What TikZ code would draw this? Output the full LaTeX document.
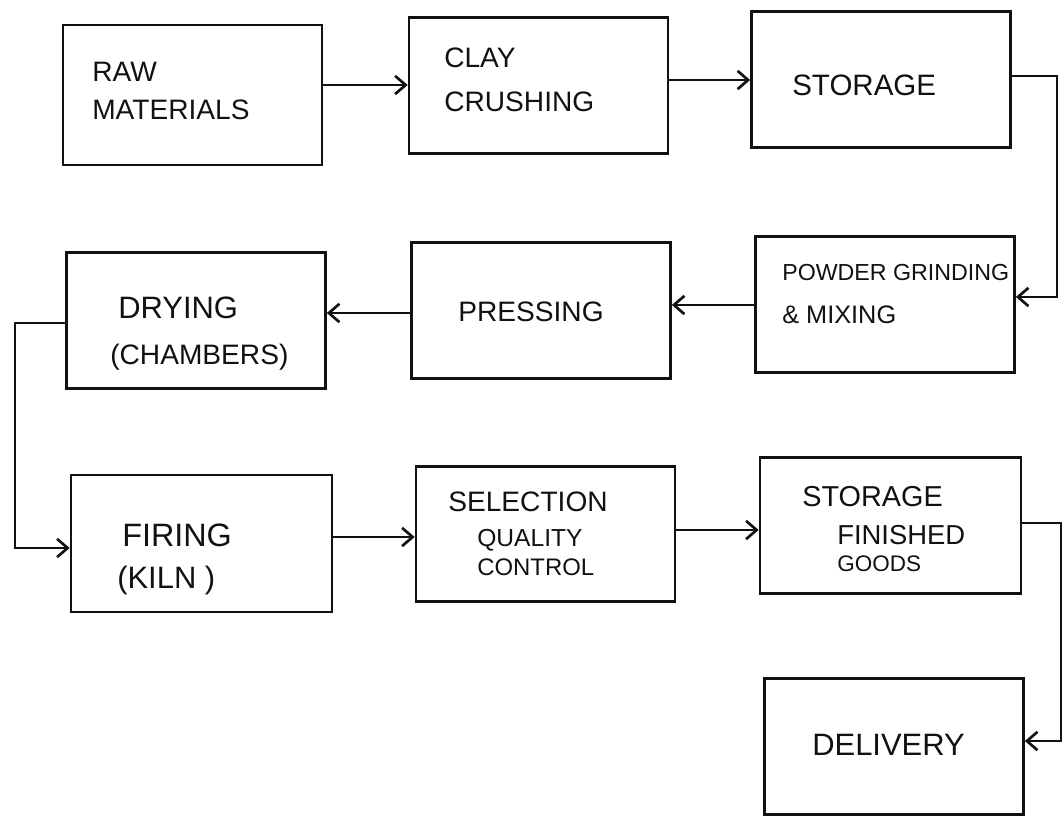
\documentclass[tikz,border=0pt]{standalone}
\usepackage{fontspec}
\setmainfont{Liberation Sans}
\usepackage{tikz}
\usetikzlibrary{arrows.meta}
\definecolor{ink}{HTML}{111111}
\newcommand{\hsz}[1]{\fontsize{#1}{#1}\selectfont}

\begin{document}
\begin{tikzpicture}[x=0.025cm,y=-0.025cm,
    stage/.style={draw=ink,line width=2pt,minimum width=6.47cm,minimum height=3.38cm,inner sep=0pt},
    tag/.style={anchor=west,inner sep=0pt,text=ink,font=\hsz{20}},
    flow/.style={draw=ink,line width=1.9pt,-{Straight Barb[length=7.5pt,width=13pt]}}]
  \useasboundingbox (0,0) rectangle (1064,815);
  % the ten stages
  \node[stage,minimum height=3.5cm] (raw) at (192.5,95) {};
  \node[stage] (clay)   at (538.5,85.5) {};
  \node[stage] (store)  at (881,79.5) {};
  \node[stage] (powder) at (885,304.5) {};
  \node[stage] (press)  at (541,310.5) {};
  \node[stage] (dry)    at (196,320.5) {};
  \node[stage,minimum width=6.52cm,minimum height=3.42cm] (fire) at (201.5,543.5) {};
  \node[stage] (sel)    at (545.5,534) {};
  \node[stage,minimum width=6.52cm] (fin) at (890.5,525.5) {};
  \node[stage] (del)    at (894,746.5) {};
  % labels
  \node[tag] (rawA) at (92,72) {RAW};
  \node[tag] (rawB) at (92,110) {MATERIALS};
  \node[tag] (clayA) at (444,58) {CLAY};
  \node[tag] (clayB) at (444,102) {CRUSHING};
  \node[tag,font=\hsz{21}] (storeA) at (792,85) {STORAGE};
  \node[tag,font=\hsz{16.5}] (powderA) at (782,273) {POWDER GRINDING};
  \node[tag,font=\hsz{18}] (powderB) at (782,315) {\& MIXING};
  \node[tag] (pressA) at (458,312) {PRESSING};
  \node[tag,font=\hsz{22}] (dryA) at (118,308) {DRYING};
  \node[tag] (dryB) at (110,357) {(CHAMBERS)};
  \node[tag,font=\hsz{23}] (fireA) at (122,535) {FIRING};
  \node[tag,font=\hsz{22}] (fireB) at (117,580) {(KILN )};
  \node[tag] (selA) at (448,502) {SELECTION};
  \node[tag,font=\hsz{17.5}] (selB) at (477,540) {QUALITY};
  \node[tag,font=\hsz{17}] (selC) at (477,567) {CONTROL};
  \node[tag,font=\hsz{20.5}] (finA) at (802,497) {STORAGE};
  \node[tag,font=\hsz{19.5}] (finB) at (837,535) {FINISHED};
  \node[tag,font=\hsz{16}] (finC) at (837,564) {GOODS};
  \node[tag,font=\hsz{22}] (delA) at (812,745) {DELIVERY};
  % connectors
  \draw[flow] (raw.east |- 0,85) -- (clay.west |- 0,85);
  \draw[flow] (clay.east |- 0,80) -- (store.west |- 0,80);
  \draw[flow] (store.east |- 0,76) -| (1057,297) -- (powder.east |- 0,297);
  \draw[flow] (powder.west |- 0,305) -- (press.east |- 0,305);
  \draw[flow] (press.west |- 0,313) -- (dry.east |- 0,313);
  \draw[flow] (dry.west |- 0,323) -| (15,548) -- (fire.west |- 0,548);
  \draw[flow] (fire.east |- 0,537) -- (sel.west |- 0,537);
  \draw[flow] (sel.east |- 0,530) -- (fin.west |- 0,530);
  \draw[flow] (fin.east |- 0,523) -| (1061,741) -- (del.east |- 0,741);
\end{tikzpicture}
\end{document}
